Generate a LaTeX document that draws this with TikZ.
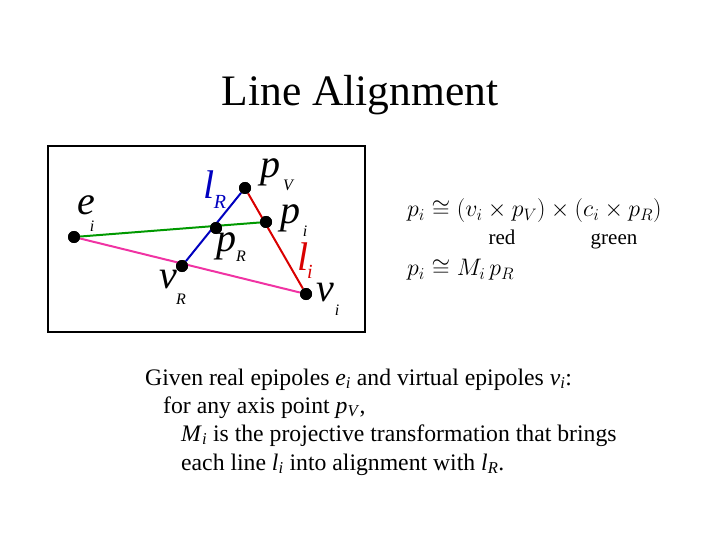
\documentclass[tikz,border=0pt]{standalone}
\usepackage{fontspec}
\setmainfont{Liberation Serif}
\begin{document}
\begin{tikzpicture}[x=1pt,y=-1pt,
  dot/.style={circle,fill=black,inner sep=0pt,minimum size=12pt},
  lab/.style={font=\fontsize{40}{40}\selectfont\itshape,inner sep=0pt},
  sub/.style={font=\fontsize{16}{16}\selectfont\itshape,inner sep=0pt},
  txt/.style={font=\fontsize{23.7}{23.7}\selectfont,anchor=base west,inner sep=0pt},
  word/.style={font=\fontsize{21}{21}\selectfont,anchor=base,inner sep=0pt},
  eqn/.style={anchor=west,inner sep=0pt,font=\fontsize{23}{23}\selectfont}]
\useasboundingbox (0,0) rectangle (720,540);
\node[font=\fontsize{43.5}{43.5}\selectfont] (title) at (360,95) {Line Alignment};
\node[draw,line width=1.2pt,minimum width=317pt,minimum height=186pt,inner sep=0pt] (frame) at (206.5,239) {};
\node[dot] (ei) at (74,237) {};
\node[dot] (pV) at (245,188) {};
\node[dot] (pi) at (266,222) {};
\node[dot] (pR) at (216,228) {};
\node[dot] (vR) at (182,266) {};
\node[dot] (vi) at (306,294) {};
\draw[green!50!black!80!green,line width=2pt] (ei) -- (pi);
\draw[magenta!80!white,line width=2pt] (ei) -- (vi);
\draw[blue!75!black,line width=2pt] (vR) -- (pV);
\draw[red!85!black,line width=2pt] (pV) -- (vi);
\foreach \n in {ei,pV,pi,pR,vR,vi} \fill (\n) circle (6pt);
\node[lab] (tei) at (86,205) {e};
\node[sub] (tei2) at (92,226) {i};
\node[lab] (tpv) at (270,172) {p};
\node[sub] (tpv2) at (288,185) {V};
\node[lab] (tpi) at (290,218) {p};
\node[sub] (tpi2) at (305,231) {i};
\node[lab] (tpr) at (226,246) {p};
\node[sub] (tpr2) at (241,256) {R};
\node[lab] (tvr) at (168,280) {v};
\node[sub] (tvr2) at (181,299) {R};
\node[lab,text=blue!75!black] (tlr) at (209,185) {l};
\node[sub,text=blue!75!black,font=\fontsize{20}{20}\selectfont\itshape] (tlr2) at (220,202) {R};
\node[lab,text=red!85!black] (tli) at (303,257) {l};
\node[sub,text=red!85!black,font=\fontsize{20}{20}\selectfont\itshape] (tli2) at (310,272) {i};
\node[lab] (tvi) at (325,293) {v};
\node[sub] (tvi2) at (337,310) {i};
\node[eqn] (eq1) at (407,211) {\scalebox{0.96}{$p_i \cong (v_i \times p_V) \times (c_i \times p_R)$}};
\node[word] (red) at (502,244) {red};
\node[word] (green) at (614,244) {green};
\node[eqn] (eq2) at (407,270) {\scalebox{0.96}{$p_i \cong M_i\, p_R$}};
\node[txt] (l1) at (145,385) {Given real epipoles \textit{e}\textsubscript{\textit{i}} and virtual epipoles \textit{v}\textsubscript{\textit{i}}:};
\node[txt] (l2) at (163,413) {for any axis point \textit{p}\textsubscript{\textit{V}},};
\node[txt] (l3) at (181,441) {\textit{M}\textsubscript{\textit{i}} is the projective transformation that brings};
\node[txt] (l4) at (181,470) {each line \textit{l}\textsubscript{\textit{i}} into alignment with \textit{l}\textsubscript{\textit{R}}.};
\end{tikzpicture}
\end{document}
